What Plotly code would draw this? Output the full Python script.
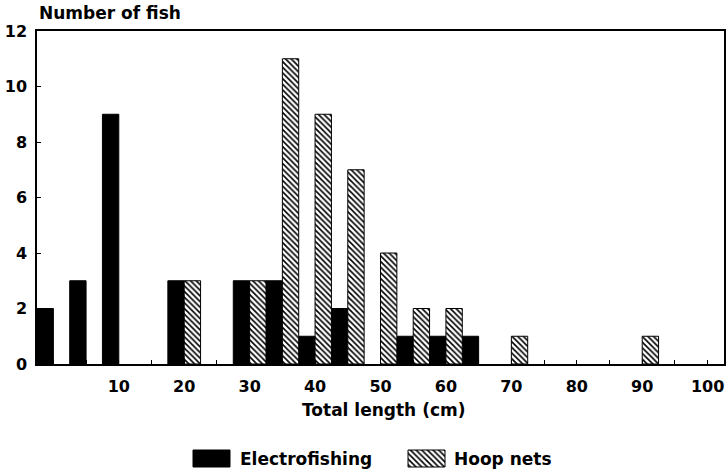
import plotly.graph_objects as go

# ---- data ----
length_bins = [0, 5, 10, 15, 20, 25, 30, 35, 40, 45, 50, 55, 60, 65, 70, 75, 80, 85, 90, 95, 100]
electrofishing = [2, 3, 9, 0, 3, 0, 3, 3, 1, 2, 0, 1, 1, 1, 0, 0, 0, 0, 0, 0, 0]
hoop_nets = [0, 0, 0, 0, 3, 0, 3, 11, 9, 7, 4, 2, 2, 0, 1, 0, 0, 0, 1, 0, 0]
x_tick_labels = [10, 20, 30, 40, 50, 60, 70, 80, 90, 100]
y_tick_labels = [0, 2, 4, 6, 8, 10, 12]
series_names = ["Electrofishing", "Hoop nets"]

W, H = 728, 474
FONT = "DejaVu Sans"
# plot-area pixel box
PL, PR, PT, PB = 37, 724, 31, 364

def nz(xs, ys):
    pts = [(x, y) for x, y in zip(xs, ys) if y > 0]
    return [p[0] for p in pts], [p[1] for p in pts]

ex, ey = nz(length_bins, electrofishing)
hx, hy = nz(length_bins, hoop_nets)

hatch = dict(shape="\\", size=4, solidity=0.4, fgcolor="black", bgcolor="white", fillmode="replace")

fig = go.Figure()
fig.add_trace(go.Bar(x=ex, y=ey, width=2.5, offset=-2.5, name=series_names[0],
                     marker=dict(color="black", line=dict(color="black", width=1)),
                     showlegend=False))
fig.add_trace(go.Bar(x=hx, y=hy, width=2.5, offset=0, name=series_names[1],
                     marker=dict(color="white", pattern=hatch, line=dict(color="black", width=1)),
                     showlegend=False))

# custom legend swatches on a pixel-space overlay axis
sw_w, sw_h, sw_top = 37, 17, 450
sw_centers = [211.5, 426.5]
fig.add_trace(go.Bar(x=[sw_centers[0]], y=[sw_h], base=[sw_top], width=sw_w, xaxis="x2", yaxis="y2",
                     marker=dict(color="black", line=dict(color="black", width=1)),
                     showlegend=False, hoverinfo="skip"))
fig.add_trace(go.Bar(x=[sw_centers[1]], y=[sw_h], base=[sw_top], width=sw_w, xaxis="x2", yaxis="y2",
                     marker=dict(color="white", pattern=hatch, line=dict(color="black", width=1)),
                     showlegend=False, hoverinfo="skip"))

tickfont = dict(family=FONT, size=16, color="black", weight="bold")
textfont = dict(family=FONT, size=17, color="black", weight="bold")

fig.update_layout(
    width=W, height=H,
    margin=dict(l=0, r=0, t=0, b=0, autoexpand=False),
    paper_bgcolor="white", plot_bgcolor="rgba(0,0,0,0)",
    barmode="overlay",
    xaxis=dict(domain=[PL / W, PR / W], range=[-2.5, 102.5], automargin=False,
               tickvals=x_tick_labels, ticktext=[str(v) for v in x_tick_labels],
               ticks="inside", ticklen=4, tickwidth=1, tickcolor="black",
               minor=dict(dtick=5, tick0=0, ticks="inside", ticklen=4, tickcolor="black"),
               showline=True, linecolor="black", linewidth=1.5, mirror=True,
               showgrid=False, zeroline=False, tickfont=tickfont, ticklabelstandoff=7,
               anchor="y", fixedrange=True),
    yaxis=dict(domain=[1 - PB / H, 1 - PT / H], range=[0, 12], automargin=False,
               tickvals=y_tick_labels,
               ticks="inside", ticklen=4, tickwidth=1, tickcolor="black",
               showline=True, linecolor="black", linewidth=1.5, mirror=True,
               showgrid=False, zeroline=False, tickfont=tickfont, ticklabelstandoff=5,
               anchor="x", fixedrange=True),
    xaxis2=dict(domain=[0, 1], range=[0, W], visible=False, anchor="y2", fixedrange=True,
                automargin=False),
    yaxis2=dict(domain=[0, 1], range=[H, 0], visible=False, anchor="x2", fixedrange=True,
                automargin=False),
    annotations=[
        dict(text="Number of fish", x=PL / W, y=1 - 13 / H, xref="paper", yref="paper",
             xanchor="left", yanchor="middle", showarrow=False, font=textfont),
        dict(text="Total length (cm)", x=383 / W, y=1 - 410 / H, xref="paper", yref="paper",
             xanchor="center", yanchor="middle", showarrow=False, font=textfont),
        dict(text=series_names[0], x=238 / W, y=1 - 459 / H, xref="paper", yref="paper",
             xanchor="left", yanchor="middle", showarrow=False, font=textfont),
        dict(text=series_names[1], x=452 / W, y=1 - 459 / H, xref="paper", yref="paper",
             xanchor="left", yanchor="middle", showarrow=False, font=textfont),
    ],
)

fig.write_html("out.html", config={"displayModeBar": False},
               post_script="document.body.style.margin='0px';")
